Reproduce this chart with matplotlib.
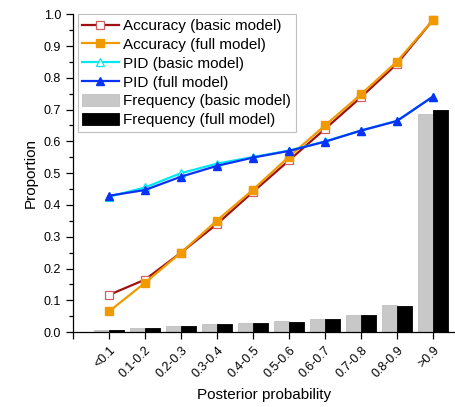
import matplotlib
matplotlib.use("Agg")
import matplotlib.pyplot as plt
import numpy as np

plt.rcParams["font.family"] = ["Liberation Sans", "DejaVu Sans"]

# posterior probability bins
bins = ["<0.1", "0.1-0.2", "0.2-0.3", "0.3-0.4", "0.4-0.5",
        "0.5-0.6", "0.6-0.7", "0.7-0.8", "0.8-0.9", ">0.9"]

acc_basic = [0.117, 0.165, 0.250, 0.340, 0.441, 0.540, 0.639, 0.739, 0.844, 0.982]
acc_full = [0.065, 0.155, 0.250, 0.351, 0.448, 0.552, 0.650, 0.748, 0.851, 0.982]
pid_basic = [0.426, 0.455, 0.500, 0.530, 0.551, 0.571, 0.600, 0.634, 0.665, 0.741]
pid_full = [0.429, 0.447, 0.489, 0.523, 0.549, 0.570, 0.599, 0.634, 0.664, 0.741]
freq_basic = [0.006, 0.013, 0.020, 0.025, 0.030, 0.035, 0.042, 0.055, 0.085, 0.686]
freq_full = [0.006, 0.012, 0.019, 0.024, 0.028, 0.033, 0.041, 0.053, 0.083, 0.698]

x = np.arange(len(bins))
w = 0.42

fig = plt.figure(figsize=(4.56, 4.07), dpi=100)
ax = fig.add_axes([0.160, 0.184, 0.840, 0.781])

ax.bar(x - w / 2, freq_basic, w, color="#c8c8c8", edgecolor="#c0c0c0", lw=0.6,
       label="Frequency (basic model)", zorder=1)
ax.bar(x + w / 2, freq_full, w, color="black", edgecolor="black", lw=0.6,
       label="Frequency (full model)", zorder=1)

ax.plot(x, acc_basic, "-s", color="#a01010", lw=1.6, ms=5.5,
        mfc="white", mec="#d06060", mew=0.9, label="Accuracy (basic model)", zorder=3)
ax.plot(x, acc_full, "-s", color="#f09a00", lw=1.6, ms=5.5,
        mfc="#f09a00", mec="#f09a00", label="Accuracy (full model)", zorder=3)
ax.plot(x, pid_basic, "-^", color="#00e8f0", lw=1.6, ms=6,
        mfc="white", mec="#00e8f0", mew=0.9, label="PID (basic model)", zorder=3)
ax.plot(x, pid_full, "-^", color="#0a32f5", lw=1.6, ms=6,
        mfc="#0a32f5", mec="#0a32f5", label="PID (full model)", zorder=4)

ax.set_xlim(-1, 9.64)
ax.set_ylim(0, 1.0)
ax.set_yticks(np.arange(0, 1.01, 0.1))
ax.set_yticks(np.arange(0, 1.01, 0.05), minor=True)
ax.set_yticklabels([f"{v:.1f}" for v in np.arange(0, 1.01, 0.1)], fontsize=9)
ax.set_xticks(x)
ax.set_xticks([-1], minor=True)
ax.set_xticklabels(bins, rotation=45, ha="right", rotation_mode="anchor", fontsize=9)
ax.tick_params(axis="both", which="major", direction="out", length=5, width=0.9)
ax.tick_params(axis="y", which="minor", direction="out", length=3, width=0.9)
ax.tick_params(axis="x", which="minor", direction="out", length=5, width=0.9)

for side in ("top", "right"):
    ax.spines[side].set_visible(False)
for side in ("left", "bottom"):
    ax.spines[side].set_linewidth(0.9)

ax.set_ylabel("Proportion", fontsize=11)
ax.set_xlabel("Posterior probability", fontsize=11, labelpad=6)

# lines first, then the two frequency bars
handles, labels = ax.get_legend_handles_labels()
lines = [h for h, l in zip(handles, labels) if not l.startswith("Frequency")]
bars = [h for h, l in zip(handles, labels) if l.startswith("Frequency")]
leg = ax.legend(lines + bars, [h.get_label() for h in lines + bars],
                loc="upper left", bbox_to_anchor=(0.012, 1.0), fontsize=11,
                frameon=True, fancybox=False, edgecolor="#b0b0b0",
                handlelength=2.4, handleheight=0.9, handletextpad=0.3,
                labelspacing=0.27, borderpad=0.3, borderaxespad=0.0)
leg.get_frame().set_linewidth(0.8)

fig.savefig("out.png", dpi=100)
